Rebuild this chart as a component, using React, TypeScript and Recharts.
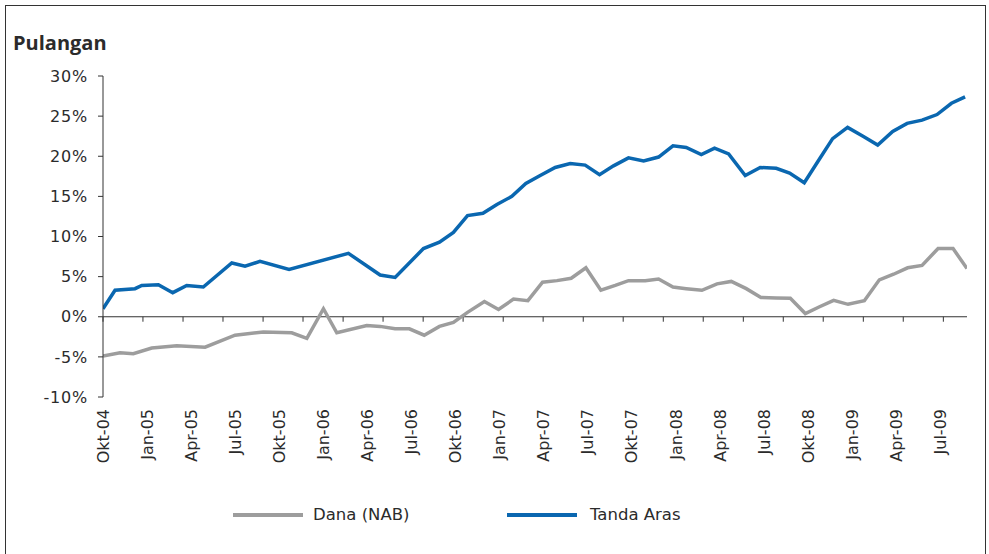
import { LineChart, Line, XAxis, YAxis, ReferenceLine } from 'recharts';

// x values are months counted from Okt-04 (0 = start of Okt-04)
const tandaMonths = [
  0, 0.82, 2.18, 2.64, 3.77, 4.75, 5.7, 6.83, 8.77, 9.67, 10.69, 12.67, 16.71, 18.87, 19.89,
  21.82, 22.91, 23.86, 24.82, 25.87, 26.82, 27.84, 28.79, 29.77, 30.79, 31.81, 32.83, 33.81,
  34.76, 35.78, 36.81, 37.83, 38.81, 39.71, 40.74, 41.64, 42.6, 43.73, 44.75, 45.84, 46.75,
  47.75, 48.73, 49.68, 50.7, 51.75, 52.75, 53.77, 54.75, 55.77, 56.79, 57.77, 58.7,
];
const tandaValues = [
  1.0, 3.3, 3.5, 3.9, 4.0, 3.0, 3.9, 3.7, 6.7, 6.3, 6.9, 5.9, 7.9, 5.2, 4.9,
  8.5, 9.3, 10.5, 12.6, 12.9, 14.0, 15.0, 16.6, 17.6, 18.6, 19.1, 18.9, 17.7,
  18.8, 19.8, 19.4, 19.9, 21.3, 21.1, 20.2, 21.0, 20.3, 17.6, 18.6, 18.5, 17.9,
  16.7, 19.5, 22.2, 23.6, 22.5, 21.4, 23.1, 24.1, 24.5, 25.2, 26.6, 27.4,
];

const danaMonths = [
  0, 1.16, 2.06, 3.32, 5.02, 6.95, 8.99, 10.92, 12.85, 13.88, 15.01, 15.92, 17.96, 18.87,
  19.89, 20.86, 21.87, 22.91, 23.86, 24.82, 25.97, 26.93, 27.95, 28.93, 29.93, 30.91, 31.88,
  32.88, 33.9, 34.88, 35.78, 36.92, 37.83, 38.81, 39.71, 40.78, 41.81, 42.78, 43.8, 44.8,
  45.84, 46.8, 47.82, 48.79, 49.75, 50.73, 51.84, 52.86, 53.83, 54.79, 55.77, 56.86, 57.88, 58.83,
];
const danaValues = [
  -4.9, -4.5, -4.6, -3.9, -3.6, -3.8, -2.3, -1.9, -2.0, -2.7, 1.0, -2.0, -1.1, -1.2,
  -1.5, -1.5, -2.3, -1.2, -0.7, 0.55, 1.9, 0.9, 2.2, 2.0, 4.3, 4.5, 4.8,
  6.1, 3.3, 3.9, 4.5, 4.5, 4.7, 3.7, 3.5, 3.3, 4.1, 4.4, 3.5, 2.4,
  2.35, 2.3, 0.4, 1.25, 2.05, 1.55, 2.0, 4.6, 5.3, 6.1, 6.4, 8.5, 8.5, 6.0,
];

const yTicks = [-10, -5, 0, 5, 10, 15, 20, 25, 30];
const labelMonths = [0, 3, 6, 9, 12, 15, 18, 21, 24, 27, 30, 33, 36, 39, 42, 45, 48, 51, 54, 57];
const labelNames = [
  'Okt-04', 'Jan-05', 'Apr-05', 'Jul-05', 'Okt-05', 'Jan-06', 'Apr-06', 'Jul-06', 'Okt-06', 'Jan-07',
  'Apr-07', 'Jul-07', 'Okt-07', 'Jan-08', 'Apr-08', 'Jul-08', 'Okt-08', 'Jan-09', 'Apr-09', 'Jul-09',
];
const markMonths = [
  0, 2.72, 5.45, 8.17, 10.9, 13.62, 16.35, 19.07, 21.8, 24.52, 27.25, 29.97, 32.7, 35.42,
  38.15, 40.87, 43.6, 46.32, 49.04, 51.77, 54.49, 57.22,
];

const tandaData = tandaMonths.map((m, i) => ({ m, v: tandaValues[i] }));
const danaData = danaMonths.map((m, i) => ({ m, v: danaValues[i] }));

const FONT = "'DejaVu Sans', sans-serif";
const TEXT = '#2b2b2b';
const AXIS = '#333333';
const BLUE = '#0a67b0';
const GREY = '#9d9d9d';

const MonthTick = ({ x, y, payload }: any) => {
  const idx = labelMonths.indexOf(payload.value);
  return (
    <text
      transform={`translate(${x}, ${y + 12}) rotate(-90)`}
      textAnchor="end"
      dy="0.36em"
      fill={TEXT}
      fontSize={16}
      fontFamily={FONT}
    >
      {labelNames[idx]}
    </text>
  );
};

export default function App() {
  return (
    <div style={{ position: 'absolute', left: 0, top: 0, width: 989, height: 554, background: '#fff', overflow: 'hidden' }}>
      <div style={{ position: 'absolute', left: 5, top: 5, width: 979, height: 560, border: `1px solid ${AXIS}` }} />
      <div
        style={{
          position: 'absolute', left: 13, top: 33, fontFamily: "'Open Sans', sans-serif",
          fontSize: 20, lineHeight: '20px', fontWeight: 700, color: TEXT,
        }}
      >
        Pulangan
      </div>
      <div style={{ position: 'absolute', left: 0, top: 0 }}>
        <LineChart width={989} height={554} margin={{ top: 76, right: 22, bottom: 0, left: 0 }}>
          <XAxis
            dataKey="m"
            type="number"
            domain={[0, 58.83]}
            ticks={labelMonths}
            interval={0}
            allowDataOverflow
            axisLine={false}
            tickLine={false}
            tickSize={0}
            tickMargin={0}
            height={157}
            tick={<MonthTick />}
          />
          <YAxis
            type="number"
            domain={[-10, 30]}
            ticks={yTicks}
            width={103}
            tickFormatter={(v: number) => `${v}%`}
            axisLine={{ stroke: AXIS, strokeWidth: 1 }}
            tickLine={{ stroke: AXIS, strokeWidth: 1 }}
            tickSize={5}
            tickMargin={10}
            tick={{ fill: TEXT, fontSize: 16, fontFamily: FONT, letterSpacing: 0.8 }}
          />
          <ReferenceLine y={0} stroke={AXIS} strokeWidth={1} />
          {markMonths.map((m) => (
            <ReferenceLine key={m} segment={[{ x: m, y: 0 }, { x: m, y: -0.62 }]} stroke={AXIS} strokeWidth={1} />
          ))}
          <Line
            data={danaData}
            dataKey="v"
            type="linear"
            stroke={GREY}
            strokeWidth={3.5}
            strokeLinejoin="miter"
            dot={false}
            isAnimationActive={false}
          />
          <Line
            data={tandaData}
            dataKey="v"
            type="linear"
            stroke={BLUE}
            strokeWidth={3.5}
            strokeLinejoin="miter"
            dot={false}
            isAnimationActive={false}
          />
        </LineChart>
      </div>
      <div
        style={{
          position: 'absolute', left: 0, top: 503, width: 989, height: 24,
          fontFamily: FONT, fontSize: 16.5, lineHeight: '24px', color: TEXT,
        }}
      >
        <div style={{ position: 'absolute', left: 233, top: 10, width: 70, height: 4, background: GREY }} />
        <span style={{ position: 'absolute', left: 313, top: 0 }}>Dana (NAB)</span>
        <div style={{ position: 'absolute', left: 507, top: 10, width: 70, height: 4, background: BLUE }} />
        <span style={{ position: 'absolute', left: 590, top: 0 }}>Tanda Aras</span>
      </div>
    </div>
  );
}
